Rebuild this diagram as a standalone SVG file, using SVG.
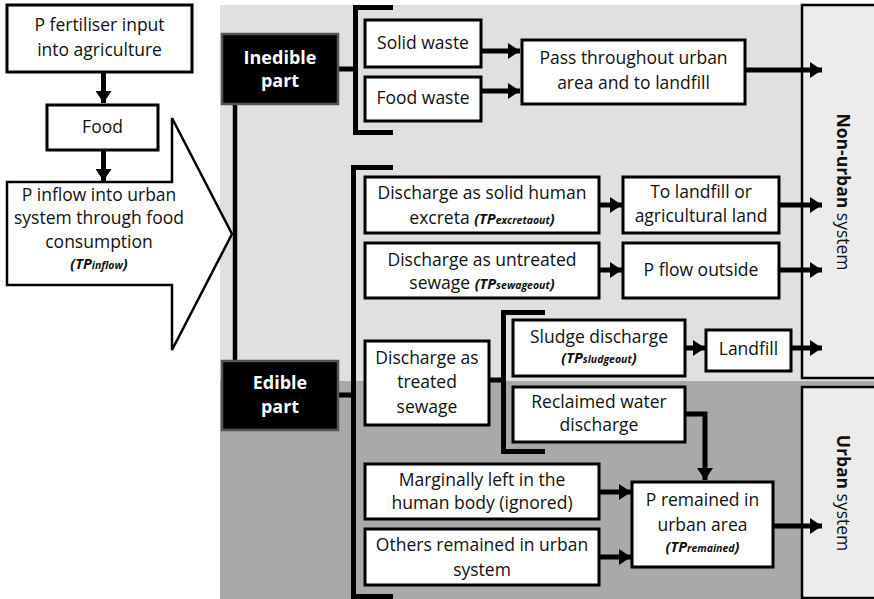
<svg xmlns="http://www.w3.org/2000/svg" width="874" height="599" viewBox="0 0 874 599">
<defs>
<style>
text{font-family:"Open Sans","Noto Sans","Liberation Sans",sans-serif;font-size:17.5px;fill:#111;text-anchor:middle}
.b{font-weight:bold}
.w{fill:#fff;font-weight:bold;font-size:18px}
.tp{font-weight:bold;font-style:italic;font-size:14.5px}
.sub{font-size:10.5px}
.box{fill:#fff;stroke:#000;stroke-width:3}
.dark{fill:#000;stroke:#555;stroke-width:2.5}
.ln{fill:none;stroke:#000;stroke-width:5}
.ar{fill:none;stroke:#000;stroke-width:5;marker-end:url(#ah)}
</style>
<marker id="ah" markerUnits="userSpaceOnUse" markerWidth="12" markerHeight="16" refX="12" refY="8" orient="auto" viewBox="0 0 12 16">
<path d="M0,0 L12,8 L0,16 z" fill="#000"/>
</marker>
</defs>
<rect x="0" y="0" width="874" height="599" fill="#fff"/>
<g id="background">
<rect x="220" y="5" width="660" height="376" fill="#e0e0e0"/>
<rect x="220" y="381" width="660" height="218" fill="#a7a9ab"/>
</g>
<g id="nonurban">
<rect x="802" y="5" width="80" height="373" fill="#ececec" stroke="#000" stroke-width="2.5"/>
<text transform="translate(843,192) rotate(90)" dy="6"><tspan class="b">Non-urban</tspan> system</text>
</g>
<g id="urban">
<rect x="802" y="387" width="80" height="211" fill="#ececec" stroke="#000" stroke-width="2.5"/>
<text transform="translate(843,493) rotate(90)" dy="6"><tspan class="b">Urban</tspan> system</text>
</g>
<g id="connectors">
<line class="ar" x1="103.5" y1="72" x2="103.5" y2="103"/>
<line class="ar" x1="103.5" y1="150" x2="103.5" y2="181"/>
<line class="ln" x1="338" y1="69" x2="355" y2="69"/>
<path class="ln" d="M393,7.5 H355.5 V132.5 H393"/>
<line class="ln" x1="235" y1="104" x2="235" y2="361" style="stroke-width:4.5"/>
<line class="ar" x1="481" y1="51" x2="520" y2="51"/>
<line class="ar" x1="481" y1="91" x2="520" y2="91"/>
<line class="ar" x1="745" y1="70" x2="822" y2="70"/>
<path class="ln" d="M393,167.5 H353.5 V596.5 H393"/>
<line class="ln" x1="338" y1="395" x2="353" y2="395"/>
<line class="ar" x1="599" y1="205" x2="622" y2="205"/>
<line class="ar" x1="599" y1="270" x2="622" y2="270"/>
<line class="ar" x1="779" y1="205" x2="822" y2="205"/>
<line class="ar" x1="779" y1="270" x2="822" y2="270"/>
<line class="ln" x1="489" y1="380" x2="503" y2="380"/>
<path class="ln" d="M545,312.5 H503.5 V451.5 H545"/>
<line class="ar" x1="685" y1="348" x2="705" y2="348"/>
<line class="ar" x1="791" y1="348" x2="822" y2="348"/>
<path class="ar" d="M685,414 H705 V480"/>
<line class="ar" x1="599" y1="492" x2="631" y2="492"/>
<line class="ar" x1="599" y1="557" x2="631" y2="557"/>
<line class="ar" x1="773" y1="526" x2="822" y2="526"/>
</g>
<g id="fertiliser">
<rect class="box" x="7" y="5" width="185" height="67"/>
<text x="99.5" y="31">P fertiliser input</text>
<text x="99.5" y="56">into agriculture</text>
</g>
<g id="food">
<rect class="box" x="47" y="105" width="111" height="45"/>
<text x="102.5" y="133">Food</text>
</g>
<g id="inflow">
<polygon points="7,182 172,182 172,118 232,234 172,350 172,285 7,285" fill="#fff" stroke="#000" stroke-width="2.5" stroke-linejoin="miter"/>
<text x="99" y="201">P inflow into urban</text>
<text x="99" y="224">system through food</text>
<text x="99" y="248">consumption</text>
<text x="99" y="269" class="tp">(TP<tspan class="sub">inflow</tspan>)</text>
</g>
<g id="inedible">
<rect class="dark" x="222" y="34" width="116" height="70"/>
<text class="w" x="280" y="64">Inedible</text>
<text class="w" x="280" y="87">part</text>
</g>
<g id="edible">
<rect class="dark" x="222" y="361" width="116" height="69"/>
<text class="w" x="280" y="389">Edible</text>
<text class="w" x="280" y="413">part</text>
</g>
<g id="solidwaste">
<rect class="box" x="365" y="20" width="116" height="47"/>
<text x="423" y="49">Solid waste</text>
</g>
<g id="foodwaste">
<rect class="box" x="365" y="77" width="116" height="44"/>
<text x="423" y="104">Food waste</text>
</g>
<g id="passthrough">
<rect class="box" x="522" y="40" width="223" height="64"/>
<text x="633.5" y="64">Pass throughout urban</text>
<text x="633.5" y="89">area and to landfill</text>
</g>
<g id="excreta">
<rect class="box" x="365" y="177" width="234" height="56"/>
<text x="482" y="199">Discharge as solid human</text>
<text x="482" y="224">excreta <tspan class="tp">(TP<tspan class="sub">excretaout</tspan>)</tspan></text>
</g>
<g id="untreated">
<rect class="box" x="365" y="243" width="234" height="55"/>
<text x="482" y="266">Discharge as untreated</text>
<text x="482" y="289">sewage <tspan class="tp">(TP<tspan class="sub">sewageout</tspan>)</tspan></text>
</g>
<g id="landfillag">
<rect class="box" x="623" y="177" width="156" height="56"/>
<text x="701" y="198">To landfill or</text>
<text x="701" y="222">agricultural land</text>
</g>
<g id="pflow">
<rect class="box" x="623" y="243" width="156" height="55"/>
<text x="701" y="276">P flow outside</text>
</g>
<g id="treated">
<rect class="box" x="365" y="341" width="124" height="84"/>
<text x="427" y="364">Discharge as</text>
<text x="427" y="388">treated</text>
<text x="427" y="413">sewage</text>
</g>
<g id="sludge">
<rect class="box" x="513" y="320" width="172" height="56"/>
<text x="599" y="343">Sludge discharge</text>
<text x="599" y="363" class="tp">(TP<tspan class="sub">sludgeout</tspan>)</text>
</g>
<g id="landfill">
<rect class="box" x="706" y="330" width="85" height="41"/>
<text x="748.5" y="355">Landfill</text>
</g>
<g id="reclaimed">
<rect class="box" x="513" y="387" width="172" height="55"/>
<text x="599" y="408">Reclaimed water</text>
<text x="599" y="431">discharge</text>
</g>
<g id="marginal">
<rect class="box" x="365" y="464" width="234" height="55"/>
<text x="482" y="486">Marginally left in the</text>
<text x="482" y="509">human body (ignored)</text>
</g>
<g id="others">
<rect class="box" x="365" y="529" width="234" height="56"/>
<text x="482" y="551">Others remained in urban</text>
<text x="482" y="576">system</text>
</g>
<g id="remained">
<rect class="box" x="632" y="482" width="141" height="85"/>
<text x="702.5" y="506">P remained in</text>
<text x="702.5" y="531">urban area</text>
<text x="702.5" y="552" class="tp">(TP<tspan class="sub">remained</tspan>)</text>
</g>
</svg>
